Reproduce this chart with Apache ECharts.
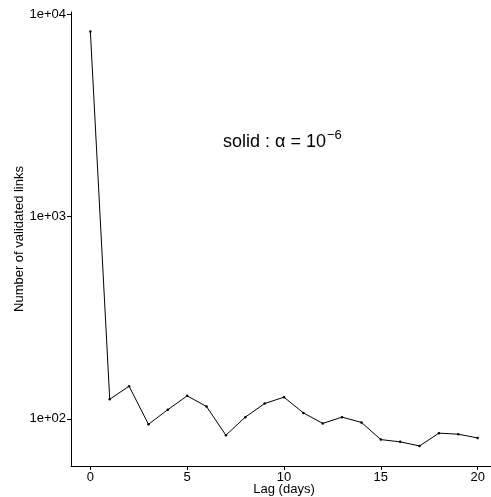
<!DOCTYPE html>
<html>
<head>
<meta charset="utf-8">
<script src="https://cdn.jsdelivr.net/npm/echarts@6/dist/echarts.min.js"></script>
<style>html,body{margin:0;padding:0;background:#fff;}#c{width:491px;height:497px;}</style>
</head>
<body>
<div id="c"></div>
<script>
const lags = [0,1,2,3,4,5,6,7,8,9,10,11,12,13,14,15,16,17,18,19,20];
const counts = [8200,125,145,94,111,130,115,83,102,119,128,107,95,102,96,79,77,73.5,85,84,80.5];
const xTicks = [0,5,10,15,20];
const yTicks = [100,1000,10000];
const xRange = [-1,21];
const yRange = [58.5,10233];

const chart = echarts.init(document.getElementById('c'), null, {renderer:'canvas'});
const font = 'Liberation Sans, Arial, Helvetica, sans-serif';
chart.setOption({
  animation:false,
  backgroundColor:'#fff',
  grid:{left:71, right:-6, top:12, bottom:31, containLabel:false, outerBoundsMode:'none'},
  xAxis:{
    type:'value', min:xRange[0], max:xRange[1],
    name:'Lag (days)', nameLocation:'middle', nameGap:17, nameMoveOverlap:false,
    nameTextStyle:{color:'#000', fontSize:13, fontFamily:font, lineHeight:13},
    axisLine:{show:true, onZero:false, lineStyle:{color:'#000', width:1}},
    axisTick:{show:true, length:4, customValues:xTicks, lineStyle:{color:'#000'}},
    axisLabel:{customValues:xTicks, color:'#000', fontSize:13, fontFamily:font, margin:5},
    splitLine:{show:false}
  },
  yAxis:{
    type:'log', logBase:10, min:yRange[0], max:yRange[1],
    name:'Number of validated links', nameLocation:'middle', nameGap:45, nameRotate:90, nameMoveOverlap:false,
    nameTextStyle:{color:'#000', fontSize:13, fontFamily:font},
    axisLine:{show:true, onZero:false, lineStyle:{color:'#000', width:1}},
    axisTick:{show:true, length:4, customValues:yTicks, lineStyle:{color:'#000'}},
    axisLabel:{customValues:yTicks, color:'#000', fontSize:13, fontFamily:font, margin:5,
      formatter:v=>{const e=Math.round(Math.log10(v));return '1e+'+(e<10?'0':'')+e;}},
    splitLine:{show:false}
  },
  series:[{
    type:'line',
    data:lags.map((x,i)=>[x,counts[i]]),
    symbol:'circle', symbolSize:2.5,
    itemStyle:{color:'#000'},
    lineStyle:{color:'#000', width:1},
    clip:false
  }],
  graphic:[{
    type:'text', left:223, top:129,
    style:{
      text:'{a|solid : α = 10}{s|−6}',
      rich:{
        a:{fontSize:18, fontFamily:font, fill:'#000', lineHeight:22, verticalAlign:'bottom'},
        s:{fontSize:13, fontFamily:font, fill:'#000', lineHeight:22, verticalAlign:'top', padding:[0,0,0,1]}
      }
    }
  }]
});
</script>
</body>
</html>
